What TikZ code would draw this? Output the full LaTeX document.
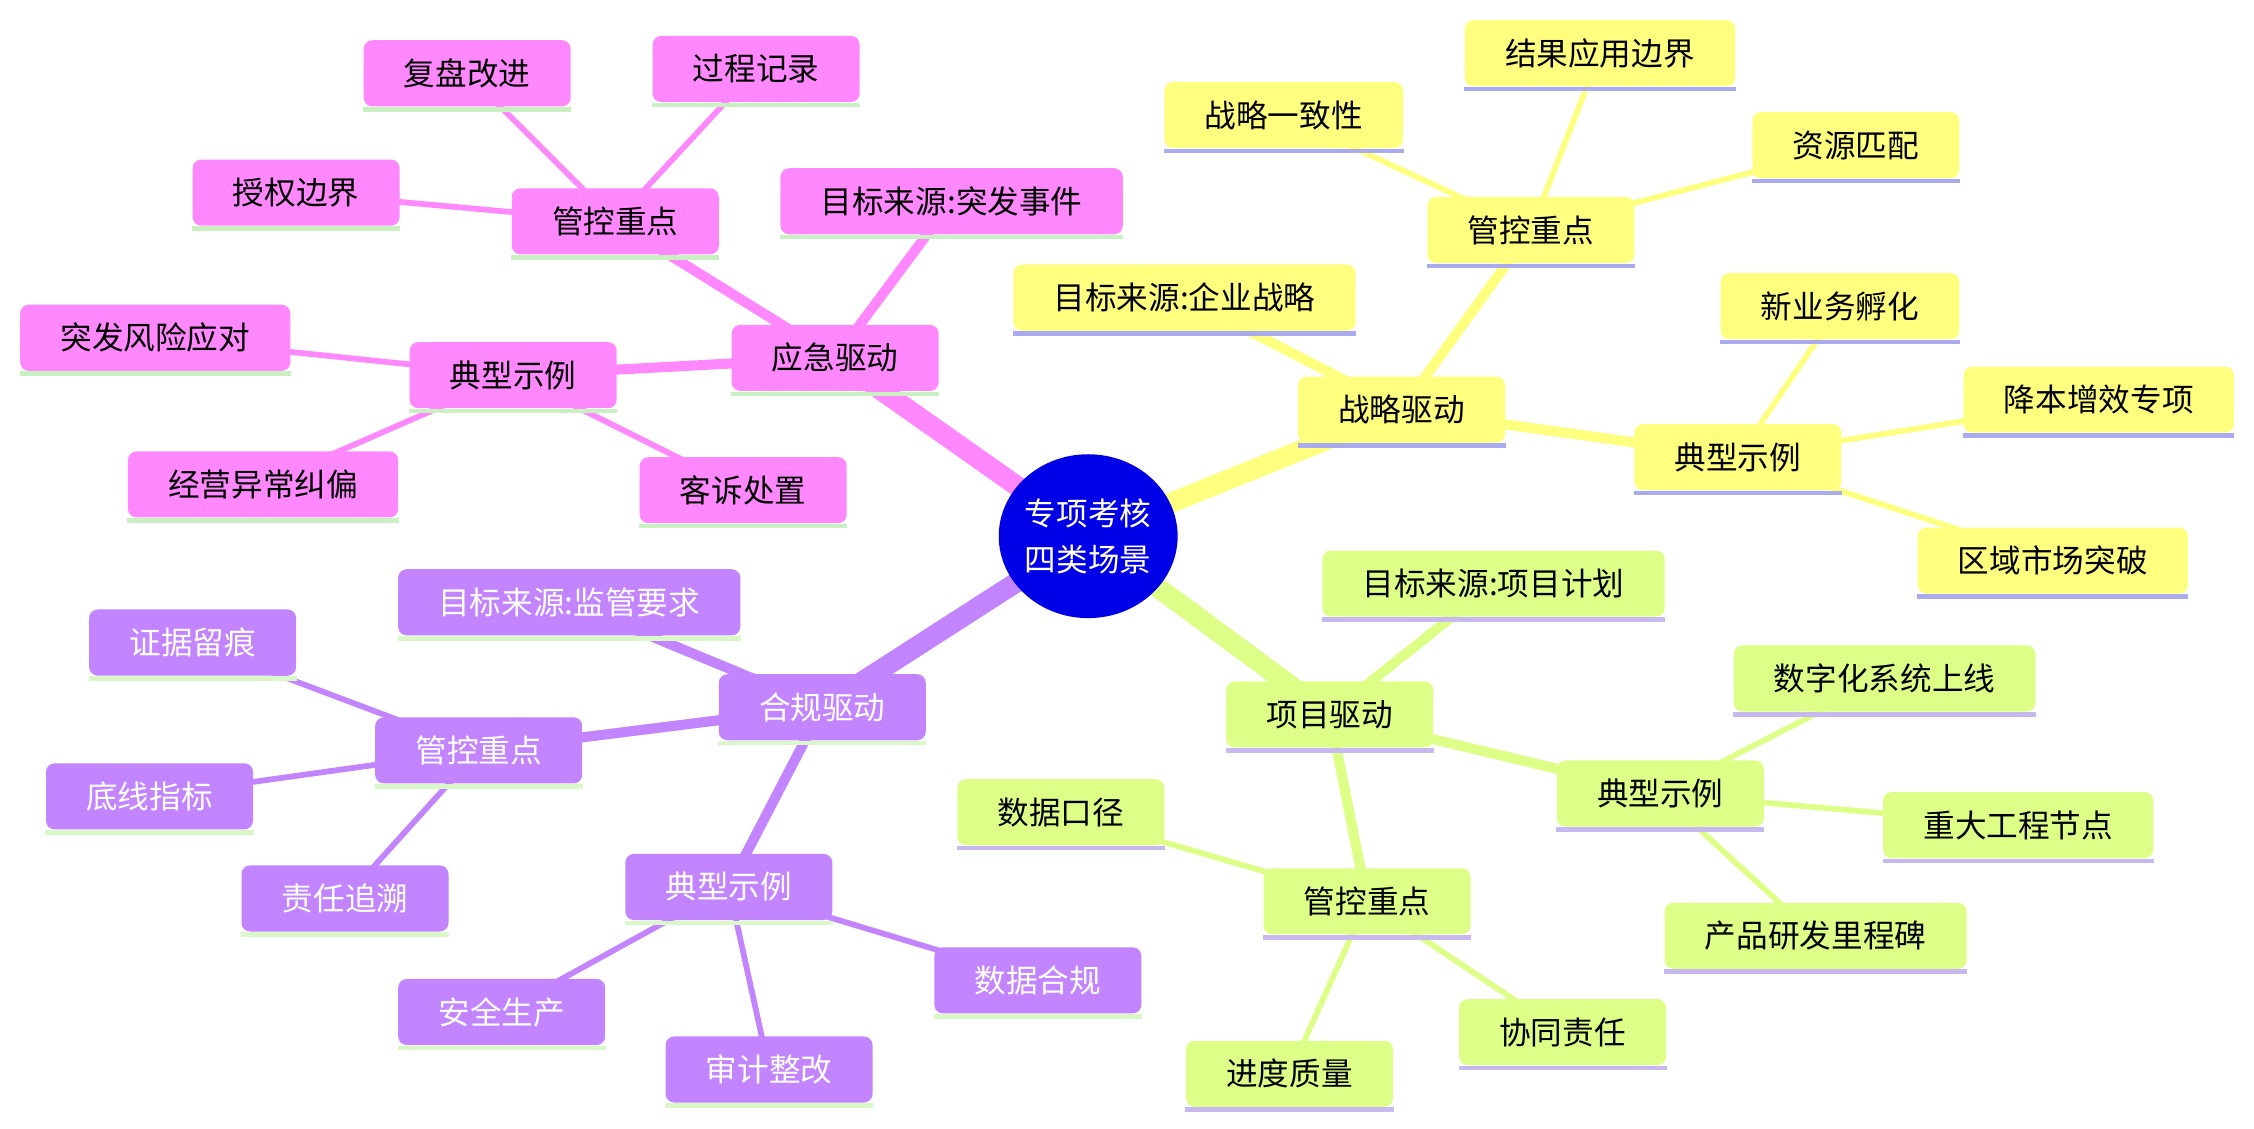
\documentclass[tikz,border=0pt]{standalone}
\usepackage{fontspec}
\setmainfont{Noto Sans CJK SC}
\usetikzlibrary{backgrounds,shapes.geometric}
\definecolor{yf}{HTML}{FFFF7F}\definecolor{yu}{HTML}{AAAAEE}
\definecolor{pf}{HTML}{FF88FF}\definecolor{pu}{HTML}{C8F0C0}
\definecolor{gf}{HTML}{DDFF88}\definecolor{gu}{HTML}{C8B8F0}
\definecolor{vf}{HTML}{C384FF}\definecolor{vu}{HTML}{D8F8C8}
\definecolor{cb}{HTML}{0000E6}
\tikzset{
 box/.style={draw=none,rounded corners=3pt,minimum height=23pt,inner xsep=14pt,font=\fontsize{11}{13}\selectfont},
 yb/.style={box,fill=yf},
 pb/.style={box,fill=pf},
 gb/.style={box,fill=gf},
 vb/.style={box,fill=vf,text=white},
 ul/.style={line width=1.6pt},
 e1/.style={line width=7pt},e2/.style={line width=3.5pt},e3/.style={line width=2pt},
}
\begin{document}
\begin{tikzpicture}[x=0.5pt,y=-0.5pt]
\useasboundingbox (0,0) rectangle (1568,785);
\node[ellipse,fill=cb,text=white,minimum width=59pt,minimum height=57pt,inner sep=0pt,align=center,font=\fontsize{11}{16}\selectfont] (c) at (757,373) {专项考核\\四类场景};
% yellow
\node[yb] (y0) at (975,285) {战略驱动};
\node[yb] (y1) at (824,207) {目标来源:企业战略};
\node[yb] (y2) at (1065,160) {管控重点};
\node[yb] (y21) at (893,80) {战略一致性};
\node[yb] (y22) at (1113,37) {结果应用边界};
\node[yb] (y23) at (1291,101) {资源匹配};
\node[yb] (y3) at (1209,318) {典型示例};
\node[yb] (y31) at (1280,213) {新业务孵化};
\node[yb] (y32) at (1460,278) {降本增效专项};
\node[yb] (y33) at (1428,390) {区域市场突破};
% pink
\node[pb] (p0) at (581,249) {应急驱动};
\node[pb] (p1) at (662,140) {目标来源:突发事件};
\node[pb] (p2) at (428,154) {管控重点};
\node[pb] (p21) at (325,51) {复盘改进};
\node[pb] (p22) at (526,48) {过程记录};
\node[pb] (p23) at (206,134) {授权边界};
\node[pb] (p3) at (357,261) {典型示例};
\node[pb] (p31) at (108,235) {突发风险应对};
\node[pb] (p32) at (183,337) {经营异常纠偏};
\node[pb] (p33) at (517,341) {客诉处置};
% green
\node[gb] (g0) at (925,497) {项目驱动};
\node[gb] (g1) at (1039,406) {目标来源:项目计划};
\node[gb] (g3) at (1155,552) {典型示例};
\node[gb] (g31) at (1311,472) {数字化系统上线};
\node[gb] (g32) at (1404,574) {重大工程节点};
\node[gb] (g33) at (1263,651) {产品研发里程碑};
\node[gb] (g2) at (951,627) {管控重点};
\node[gb] (g21) at (738,565) {数据口径};
\node[gb] (g22) at (1087,718) {协同责任};
\node[gb] (g23) at (897,747) {进度质量};
% purple
\node[vb] (v0) at (572,492) {合规驱动};
\node[vb] (v1) at (396,419) {目标来源:监管要求};
\node[vb] (v2) at (333,522) {管控重点};
\node[vb] (v21) at (134,447) {证据留痕};
\node[vb] (v22) at (104,554) {底线指标};
\node[vb] (v23) at (240,625) {责任追溯};
\node[vb] (v3) at (507,617) {典型示例};
\node[vb] (v31) at (349,704) {安全生产};
\node[vb] (v32) at (535,744) {审计整改};
\node[vb] (v33) at (722,682) {数据合规};
% underlines
\foreach \n/\col in {y0/yu,y1/yu,y2/yu,y21/yu,y22/yu,y23/yu,y3/yu,y31/yu,y32/yu,y33/yu,
 p0/pu,p1/pu,p2/pu,p21/pu,p22/pu,p23/pu,p3/pu,p31/pu,p32/pu,p33/pu,
 g0/gu,g1/gu,g2/gu,g21/gu,g22/gu,g23/gu,g3/gu,g31/gu,g32/gu,g33/gu,
 v0/vu,v1/vu,v2/vu,v21/vu,v22/vu,v23/vu,v3/vu,v31/vu,v32/vu,v33/vu}
 \draw[ul,draw=\col] ([yshift=-0.8pt]\n.south west) -- ([yshift=-0.8pt]\n.south east);
\begin{scope}[on background layer]
\draw[yf,e1] (c.center)--(y0.center);
\draw[yf,e2] (y0.center)--(y1.center) (y0.center)--(y2.center) (y0.center)--(y3.center);
\draw[yf,e3] (y2.center)--(y21.center) (y2.center)--(y22.center) (y2.center)--(y23.center)
 (y3.center)--(y31.center) (y3.center)--(y32.center) (y3.center)--(y33.center);
\draw[pf,e1] (c.center)--(p0.center);
\draw[pf,e2] (p0.center)--(p1.center) (p0.center)--(p2.center) (p0.center)--(p3.center);
\draw[pf,e3] (p2.center)--(p21.center) (p2.center)--(p22.center) (p2.center)--(p23.center)
 (p3.center)--(p31.center) (p3.center)--(p32.center) (p3.center)--(p33.center);
\draw[gf,e1] (c.center)--(g0.center);
\draw[gf,e2] (g0.center)--(g1.center) (g0.center)--(g2.center) (g0.center)--(g3.center);
\draw[gf,e3] (g2.center)--(g21.center) (g2.center)--(g22.center) (g2.center)--(g23.center)
 (g3.center)--(g31.center) (g3.center)--(g32.center) (g3.center)--(g33.center);
\draw[vf,e1] (c.center)--(v0.center);
\draw[vf,e2] (v0.center)--(v1.center) (v0.center)--(v2.center) (v0.center)--(v3.center);
\draw[vf,e3] (v2.center)--(v21.center) (v2.center)--(v22.center) (v2.center)--(v23.center)
 (v3.center)--(v31.center) (v3.center)--(v32.center) (v3.center)--(v33.center);
\end{scope}
\end{tikzpicture}
\end{document}
